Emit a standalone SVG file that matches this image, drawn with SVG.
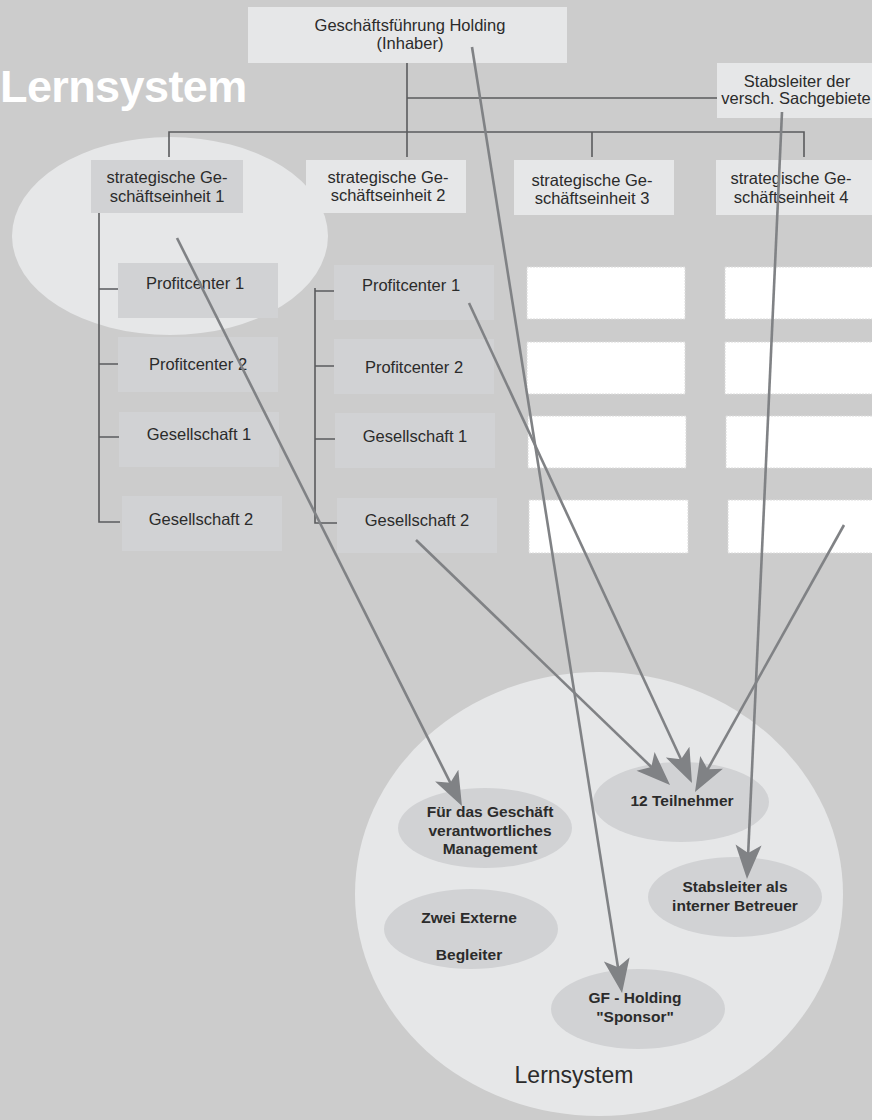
<svg xmlns="http://www.w3.org/2000/svg" width="872" height="1120" viewBox="0 0 872 1120">
<style>
.t{font-family:"Liberation Sans",Arial,sans-serif;font-size:16.5px;fill:#2b2b2b;text-anchor:middle}
.b{font-family:"Liberation Sans",Arial,sans-serif;font-size:15.5px;font-weight:bold;fill:#2b2b2b;text-anchor:middle}
.light{fill:#e6e7e8}
.mid{fill:#d1d2d4}
.white{fill:#ffffff;stroke:#dcdcdc;stroke-width:1;stroke-dasharray:2 1}
.tree{stroke:#5a5b5d;stroke-width:1.6;fill:none}
.arr{stroke:#808285;stroke-width:2.6;fill:none;marker-end:url(#ah)}
</style>
<defs>
<marker id="ah" markerUnits="userSpaceOnUse" markerWidth="44" markerHeight="32" viewBox="-14 -16 44 32" refX="0" refY="0" orient="auto" overflow="visible">
<path d="M22,0 L-12,-13 L-4,0 L-12,13 Z" fill="#808285"/>
</marker>
</defs>
<rect x="0" y="0" width="872" height="1120" fill="#cccccc"/>
<text x="0" y="102" style="font-family:'Liberation Sans',Arial,sans-serif;font-size:45px;font-weight:bold;fill:#ffffff;letter-spacing:-0.6px">Lernsystem</text>

<ellipse id="sge1-area" cx="170" cy="236" rx="158" ry="99" class="light"/>

<g id="tree-lines" class="tree">
<path d="M407,63 V157"/>
<path d="M407,98 H717"/>
<path d="M169,157 V132 H804 V157"/>
<path d="M592,132 V157"/>
<path d="M99,213 V522 H120 M99,289 H118 M99,364 H118 M99,437 H119"/>
<path d="M315,288 V523 H337 M315,291 H334 M315,366 H334 M315,439 H335"/>
</g>

<g id="holding"><rect x="248" y="7" width="319" height="56" class="light"/>
<text class="t" x="410" y="31">Geschäftsführung Holding</text><text class="t" x="410" y="49">(Inhaber)</text></g>
<g id="stabsleiter"><rect x="717" y="63" width="155" height="55" class="light"/>
<text class="t" x="797" y="87">Stabsleiter der</text><text class="t" x="796" y="104">versch. Sachgebiete</text></g>

<g id="sge1"><rect x="91" y="160" width="152" height="53" class="mid"/>
<text class="t" x="167" y="183">strategische Ge-</text><text class="t" x="167" y="202">schäftseinheit 1</text></g>
<g id="sge2"><rect x="306" y="160" width="160" height="53" class="light"/>
<text class="t" x="388" y="183">strategische Ge-</text><text class="t" x="388" y="201">schäftseinheit 2</text></g>
<g id="sge3"><rect x="514" y="160" width="160" height="55" class="light"/>
<text class="t" x="592" y="186">strategische Ge-</text><text class="t" x="592" y="204">schäftseinheit 3</text></g>
<g id="sge4"><rect x="716" y="160" width="156" height="55" class="light"/>
<text class="t" x="791" y="184">strategische Ge-</text><text class="t" x="791" y="203">schäftseinheit 4</text></g>

<g id="c1-pc1"><rect x="118" y="263" width="160" height="55" class="mid"/><text class="t" x="195" y="289">Profitcenter 1</text></g>
<g id="c1-pc2"><rect x="118" y="337" width="160" height="55" class="mid"/><text class="t" x="198" y="370">Profitcenter 2</text></g>
<g id="c1-g1"><rect x="119" y="412" width="160" height="55" class="mid"/><text class="t" x="199" y="440">Gesellschaft 1</text></g>
<g id="c1-g2"><rect x="122" y="496" width="160" height="55" class="mid"/><text class="t" x="201" y="525">Gesellschaft 2</text></g>

<g id="c2-pc1"><rect x="334" y="265" width="160" height="55" class="mid"/><text class="t" x="411" y="291">Profitcenter 1</text></g>
<g id="c2-pc2"><rect x="334" y="339" width="160" height="55" class="mid"/><text class="t" x="414" y="373">Profitcenter 2</text></g>
<g id="c2-g1"><rect x="335" y="413" width="160" height="55" class="mid"/><text class="t" x="415" y="442">Gesellschaft 1</text></g>
<g id="c2-g2"><rect x="337" y="498" width="160" height="55" class="mid"/><text class="t" x="417" y="526">Gesellschaft 2</text></g>

<g id="c3-empty">
<rect x="527" y="267" width="158" height="52" class="white"/>
<rect x="527" y="342" width="158" height="52" class="white"/>
<rect x="528" y="416" width="158" height="52" class="white"/>
<rect x="529" y="500" width="159" height="53" class="white"/>
</g>
<g id="c4-empty">
<rect x="725" y="267" width="150" height="52" class="white"/>
<rect x="725" y="342" width="150" height="52" class="white"/>
<rect x="726" y="416" width="150" height="52" class="white"/>
<rect x="728" y="500" width="150" height="53" class="white"/>
</g>

<g id="lernsystem"><ellipse cx="599" cy="894" rx="244" ry="222" class="light"/>
<text x="574" y="1083" style="font-family:'Liberation Sans',Arial,sans-serif;font-size:23px;fill:#2b2b2b;text-anchor:middle">Lernsystem</text></g>
<g id="management"><ellipse cx="485" cy="828" rx="87" ry="40" class="mid"/>
<text class="b" x="490" y="817">Für das Geschäft</text><text class="b" x="490" y="836">verantwortliches</text><text class="b" x="490" y="854">Management</text></g>
<g id="teilnehmer"><ellipse cx="681" cy="802" rx="88" ry="40" class="mid"/>
<text class="b" x="682" y="806">12 Teilnehmer</text></g>
<g id="betreuer"><ellipse cx="735" cy="897" rx="87" ry="40" class="mid"/>
<text class="b" x="735" y="892">Stabsleiter als</text><text class="b" x="735" y="911">interner Betreuer</text></g>
<g id="externe"><ellipse cx="471" cy="929" rx="87" ry="40" class="mid"/>
<text class="b" x="469" y="923">Zwei Externe</text><text class="b" x="469" y="960">Begleiter</text></g>
<g id="sponsor"><ellipse cx="638" cy="1009" rx="87" ry="40" class="mid"/>
<text class="b" x="635" y="1003">GF - Holding</text><text class="b" x="635" y="1022">"Sponsor"</text></g>

<g id="connectors">
<path class="arr" d="M177,238 L452.1,786.3"/>
<path class="arr" d="M472,47 L618.6,971.3"/>
<path class="arr" d="M469,303 L682.7,763"/>
<path class="arr" d="M416,540 L654.2,769.7"/>
<path class="arr" d="M844,525 L705.7,772.8"/>
<path class="arr" d="M782,112 L748,857"/>
</g>
</svg>
